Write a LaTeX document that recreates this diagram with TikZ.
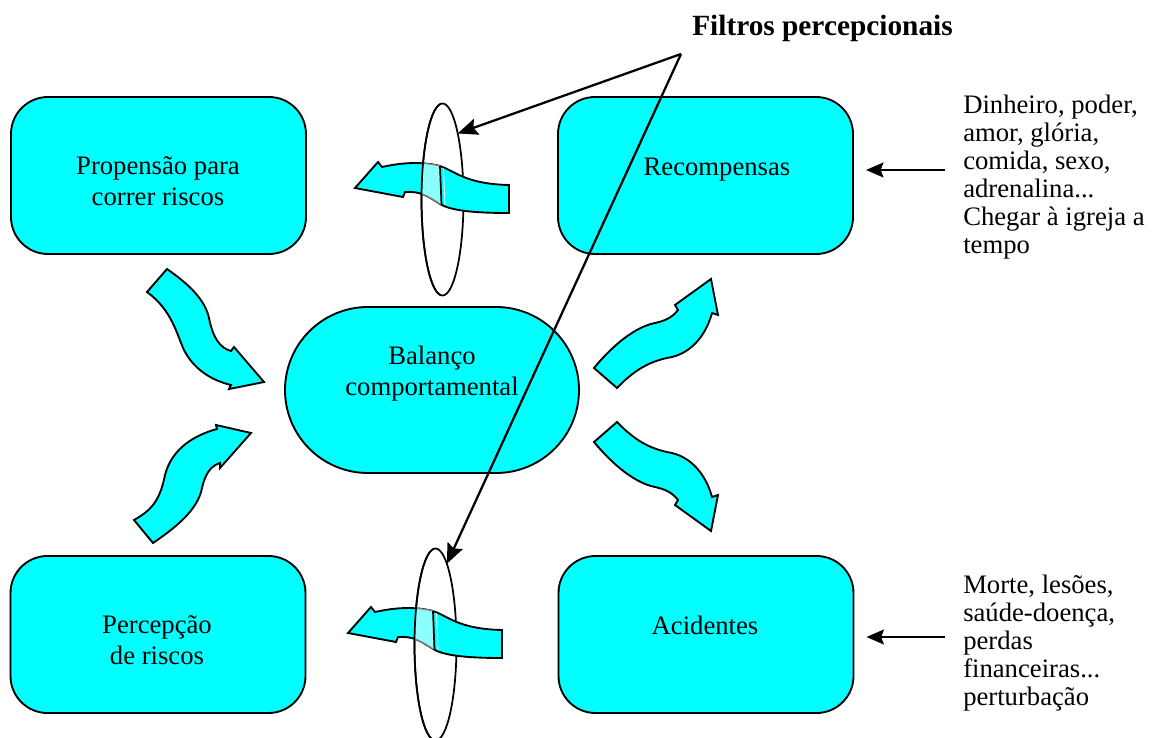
\documentclass[tikz,border=0pt]{standalone}
\usepackage{fontspec}
\setmainfont{Liberation Serif}
\usetikzlibrary{arrows.meta,shapes.geometric,shapes.misc,calc}

\definecolor{aqua}{RGB}{0,255,255}
\definecolor{paleaqua}{RGB}{140,255,255}
\definecolor{lensgray}{RGB}{128,128,128}

% outline of the bent arrow that passes through a filter lens
\newcommand\flpath{(355,188) -- (378,162) -- (382,167)
  .. controls (400,163) and (420,161) .. (440,166)
  .. controls (455,171) and (465,184) .. (509,185)
  -- (509,213)
  .. controls (470,213) and (450,210) .. (440,204)
  .. controls (428,196) and (420,191) .. (405,192)
  -- (403,197) -- cycle}

\tikzset{
  box/.style={draw, line width=1.4pt, fill=aqua, rounded corners=27.75pt,
    minimum width=221.25pt, minimum height=117.75pt, inner sep=0pt},
  stadium/.style={draw, line width=1.4pt, fill=aqua, rounded rectangle,
    minimum width=220.5pt, minimum height=124.5pt, inner sep=0pt},
  sarrow/.style={draw, fill=aqua, line width=1.4pt},
  lens/.style={draw, ellipse, line width=1.3pt, minimum width=31.5pt,
    minimum height=144pt, inner sep=0pt, outer sep=0pt},
  lbl/.style={font=\fontsize{20}{23}\selectfont, align=center, inner sep=0pt},
  note/.style={font=\fontsize{20}{21}\selectfont, align=left, inner sep=0pt,
    anchor=north west},
  heading/.style={font=\fontsize{22}{26}\selectfont\bfseries, inner sep=0pt},
  sidearrow/.style={line width=2.2pt, -{Stealth[length=13pt,width=11pt,inset=2pt]}},
  filterline/.style={line width=1.7pt, -{Stealth[length=15pt,width=12.5pt,inset=2.5pt]}},
  lens filter/.pic={
    \node[lens] (-lens) at (442.5,199.5) {};
    \path[sarrow] \flpath;
    \begin{scope}
      \clip (442.5,199.5) ellipse [x radius=21, y radius=96];
      \clip (400,100) rectangle (441,300);
      \path[fill=paleaqua, draw=lensgray, line width=1pt] \flpath;
    \end{scope}
    \begin{scope}
      \clip (380,90) rectangle (441,310);
      \draw[line width=1.3pt] (442.5,199.5) ellipse [x radius=21, y radius=96];
    \end{scope}
    \draw[line width=1.3pt] (440,166) -- (441.5,205);
    \draw[white, line width=0.6pt] (443.5,168) -- (445,205);
  }
}

\begin{document}
\begin{tikzpicture}[x=0.75pt, y=-0.75pt]
\useasboundingbox[fill=white] (0,0) rectangle (1153,738);

% the five boxes
\node[box] (prop) at (158.5,175.5) {};
\node[box] (rec)  at (705.5,175.5) {};
\node[box] (perc) at (158,634.5) {};
\node[box] (acid) at (706,634.5) {};
\node[stadium] (bal) at (432,390) {};

% S-shaped block arrows around the central balance
\path[sarrow] (147,292) -- (167,269)
  .. controls (190,285) and (205,300) .. (209,318)
  .. controls (213,338) and (220,348) .. (231,351)
  -- (234,347) -- (264,382) -- (229,389) -- (231,385)
  .. controls (210,380) and (193,368) .. (184,350)
  .. controls (177,335) and (172,310) .. (147,292) -- cycle;

\path[sarrow] (134,520) -- (153,543)
  .. controls (175,528) and (198,510) .. (202,488)
  .. controls (205,475) and (210,466) .. (220,463)
  -- (220,468) -- (251,433) -- (216,425) -- (217,429)
  .. controls (195,435) and (172,448) .. (165,475)
  .. controls (160,500) and (152,510) .. (134,520) -- cycle;

\path[sarrow] (594,368) -- (617,388)
  .. controls (638,366) and (655,360) .. (672,357)
  .. controls (692,352) and (706,335) .. (712,313)
  -- (718,315) -- (711,279) -- (675,305) -- (678,310)
  .. controls (672,318) and (664,321) .. (655,323)
  .. controls (635,327) and (613,345) .. (594,368) -- cycle;

\path[sarrow] (594,442) -- (617,422)
  .. controls (638,444) and (655,450) .. (672,453)
  .. controls (692,458) and (706,475) .. (712,497)
  -- (718,495) -- (711,531) -- (675,505) -- (678,500)
  .. controls (672,492) and (664,489) .. (655,487)
  .. controls (635,483) and (613,465) .. (594,442) -- cycle;

% perceptual filter lenses with the arrows passing through them
\pic (lensA) at (0,0) {lens filter};
\pic (lensB) at (-7,445) {lens filter};

% box labels
\node[lbl] (tprop) at (158,181) {Propensão para\\correr riscos};
\node[lbl] (trec)  at (717,170) {Recompensas};
\node[lbl] (tbal)  at (432,373.5) {Balanço\\comportamental};
\node[lbl] (tperc) at (157,640) {Percepção\\de riscos};
\node[lbl] (tacid) at (705,625.5) {Acidentes};

% side notes
\node[note] (noteA) at (963,94.8) {Dinheiro, poder,\\amor, glória,\\comida, sexo,\\adrenalina...\\Chegar à igreja a\\tempo};
\node[note] (noteB) at (963,574.8) {Morte, lesões,\\saúde-doença,\\perdas\\financeiras...\\perturbação};

\draw[sidearrow] ($(noteA.west |- rec.center)+(-18,-5.5)$) -- ($(rec.east)+(12,-5.5)$);
\draw[sidearrow] ($(noteB.west |- acid.center)+(-18,2.5)$) -- ($(acid.east)+(12,2.5)$);

% heading and its pointer lines
\node[heading] (title) at (822.5,28.4) {Filtros percepcionais};
\coordinate (apex) at (681,54);
\draw[filterline] (apex) -- (lensA-lens.77);
\draw[filterline] (apex) -- (lensB-lens.82);
\end{tikzpicture}
\end{document}
